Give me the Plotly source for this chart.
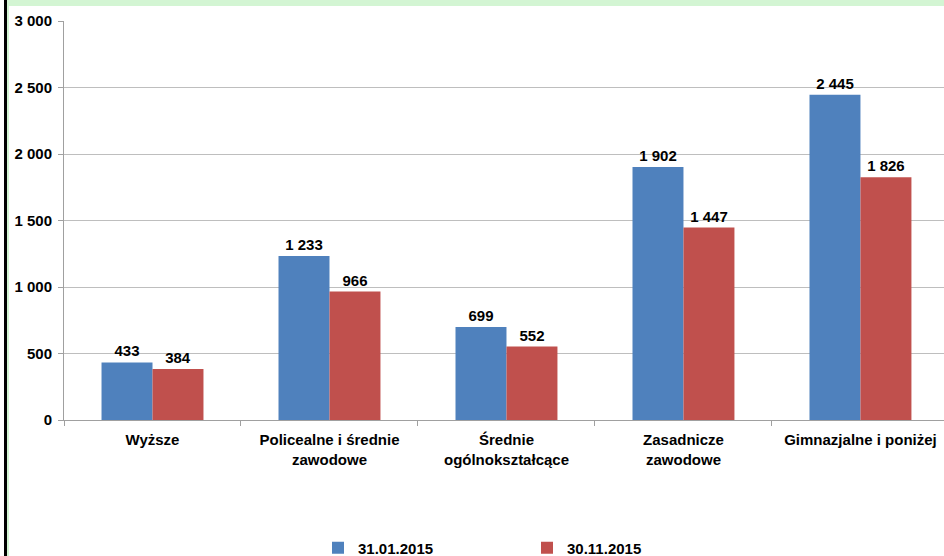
import plotly.graph_objects as go

categories = ["Wyższe", "Policealne i średnie<br>zawodowe", "Średnie<br>ogólnokształcące",
              "Zasadnicze<br>zawodowe", "Gimnazjalne i poniżej"]
series_a_name = "31.01.2015"
series_b_name = "30.11.2015"
series_a = [433, 1233, 699, 1902, 2445]
series_b = [384, 966, 552, 1447, 1826]
y_tickvals = [0, 500, 1000, 1500, 2000, 2500, 3000]
y_ticktext = ["0", "500", "1 000", "1 500", "2 000", "2 500", "3 000"]

def fmt(v):
    return f"{v:,}".replace(",", " ")

FONT = "Liberation Sans, Arial, sans-serif"
W, H = 944, 556
L, R, T, B = 64, 0, 21, 136
PW, PH = W - L - R, H - T - B

def px_x(x):
    return (x - L) / PW

def px_y(y):
    return 1 + (T - y) / PH

def f(size):
    return dict(family=FONT, size=size, color="#000000", weight="bold")

fig = go.Figure()
fig.add_trace(go.Bar(x=categories, y=series_a, name=series_a_name,
                     marker=dict(color="#4F81BD", line=dict(width=0)),
                     text=[fmt(v) for v in series_a], textposition="outside",
                     textfont=f(15), cliponaxis=False))
fig.add_trace(go.Bar(x=categories, y=series_b, name=series_b_name,
                     marker=dict(color="#C0504D", line=dict(width=0)),
                     text=[fmt(v) for v in series_b], textposition="outside",
                     textfont=f(15), cliponaxis=False))

fig.update_layout(
    width=W, height=H,
    margin=dict(l=L, r=R, t=T, b=B, pad=0, autoexpand=False),
    paper_bgcolor="white", plot_bgcolor="white",
    barmode="group", bargap=0.424, bargroupgap=0,
    font=f(15),
    xaxis=dict(range=[-0.5, 4.472], type="category", tickson="boundaries",
               ticks="outside", ticklen=5, tickcolor="#A0A0A0",
               showline=True, linecolor="#A0A0A0", linewidth=1,
               showgrid=False, tickfont=f(15), ticklabelstandoff=6,
               tickangle=0, fixedrange=True, automargin=False),
    yaxis=dict(range=[0, 3000], tickvals=y_tickvals, ticktext=y_ticktext,
               ticks="outside", ticklen=5, tickcolor="#A0A0A0",
               showline=True, linecolor="#A0A0A0", linewidth=1,
               showgrid=True, gridcolor="#BEBEBE", gridwidth=1,
               zeroline=False, tickfont=f(15), ticklabelstandoff=3,
               automargin=False),
    legend=dict(orientation="h", x=px_x(318), xanchor="left", y=px_y(548), yanchor="middle",
                entrywidth=164, entrywidthmode="pixels",
                font=f(15), bgcolor="rgba(0,0,0,0)"),
    shapes=[
        dict(type="rect", xref="paper", yref="paper", x0=px_x(4), x1=px_x(944), y0=px_y(6), y1=px_y(0),
             fillcolor="#D3F5D3", line=dict(width=0), layer="below"),
        dict(type="rect", xref="paper", yref="paper", x0=px_x(7), x1=px_x(9), y0=px_y(556), y1=px_y(0),
             fillcolor="#D3F5D3", line=dict(width=0), layer="below"),
        dict(type="rect", xref="paper", yref="paper", x0=px_x(4), x1=px_x(7), y0=px_y(556), y1=px_y(0),
             fillcolor="#000000", line=dict(width=0), layer="above"),
    ],
)

fig.write_html("out.html", config={"displayModeBar": False},
               post_script="document.body.style.margin='0';")
